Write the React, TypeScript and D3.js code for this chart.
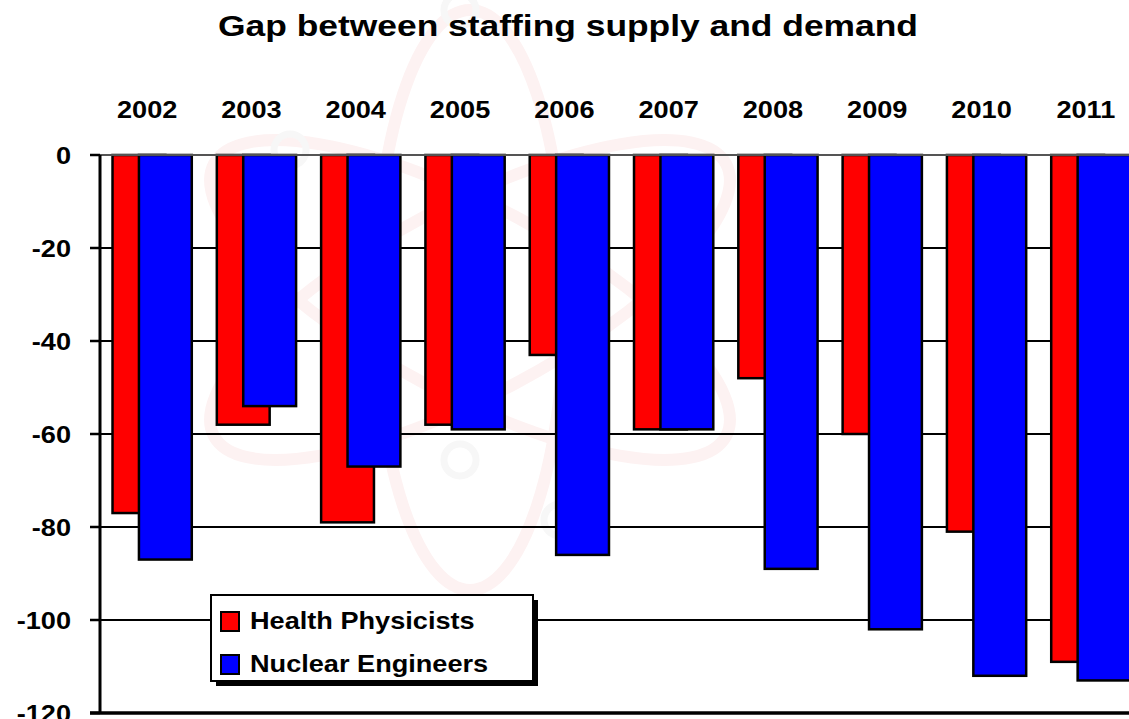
import React, { useEffect, useRef } from 'react';
import * as d3 from 'd3';

// chart values
const years = ['2002', '2003', '2004', '2005', '2006', '2007', '2008', '2009', '2010', '2011'];
const healthPhysicists = [-77, -58, -79, -58, -43, -59, -48, -60, -81, -109];
const nuclearEngineers = [-87, -54, -67, -59, -86, -59, -89, -102, -112, -113];
const yTicks = [0, -20, -40, -60, -80, -100, -120];
const seriesNames = ['Health Physicists', 'Nuclear Engineers'];
const seriesColors = ['#ff0000', '#0000ff'];

const W = 1129;
const H = 719;
const FONT = '"Liberation Sans", Arial, Helvetica, sans-serif';
const STRETCH = 1.18; // the slide text is a little wider than plain Arial

const App: React.FC = () => {
  const svgRef = useRef<SVGSVGElement>(null);

  useEffect(() => {
    if (!svgRef.current) return;
    const svg = d3.select(svgRef.current);
    svg.selectAll('*').remove();

    const left = 100;
    const x = d3.scaleBand<string>()
      .domain(years)
      .range([left, left + 1043])
      .paddingInner(0.24)
      .paddingOuter(0.12);
    const y = d3.scaleLinear().domain([-120, 0]).range([713, 155]);

    const barW = (x.bandwidth() * 2) / 3;
    const shift = x.bandwidth() / 3;

    // helper for horizontally stretched text
    const addText = (
      tx: number, ty: number, str: string, size: number, anchor: string,
    ) => svg.append('text')
      .attr('transform', `translate(${tx},${ty}) scale(${STRETCH},1)`)
      .attr('text-anchor', anchor)
      .attr('font-family', FONT)
      .attr('font-weight', 'bold')
      .attr('font-size', size)
      .attr('fill', '#000')
      .text(str);

    // very faint atom watermark in the background
    const wm = svg.append('g').attr('transform', 'translate(470,300)');
    [-62, 0, 62].forEach(a => {
      wm.append('ellipse')
        .attr('rx', 290).attr('ry', 95)
        .attr('transform', `rotate(${a - 90})`)
        .attr('fill', 'none')
        .attr('stroke', '#fdf2f2')
        .attr('stroke-width', 12);
    });
    [[-180, -150], [-10, -290], [90, 220], [-10, 160]].forEach(([cx, cy]) => {
      wm.append('circle').attr('cx', cx).attr('cy', cy).attr('r', 16)
        .attr('fill', 'none').attr('stroke', '#f7f7f7').attr('stroke-width', 7);
    });

    // title
    addText(568, 36, 'Gap between staffing supply and demand', 30, 'middle');

    // gridlines
    svg.append('g')
      .selectAll('line')
      .data(yTicks.filter(t => t !== 0 && t !== -120))
      .enter()
      .append('line')
      .attr('x1', left).attr('x2', W)
      .attr('y1', d => y(d)).attr('y2', d => y(d))
      .attr('stroke', '#000').attr('stroke-width', 2);

    // bars: red first, blue overlapping on top
    const drawSeries = (vals: number[], color: string, dx: number) => {
      svg.append('g')
        .selectAll('rect')
        .data(vals)
        .enter()
        .append('rect')
        .attr('x', (_, i) => (x(years[i]) as number) + dx)
        .attr('y', y(0))
        .attr('width', barW)
        .attr('height', d => y(d) - y(0))
        .attr('fill', color)
        .attr('stroke', '#000')
        .attr('stroke-width', 2.5);
    };
    drawSeries(healthPhysicists, seriesColors[0], 0);
    drawSeries(nuclearEngineers, seriesColors[1], shift);

    // top (zero) line and bottom border
    svg.append('line')
      .attr('x1', left).attr('x2', W)
      .attr('y1', y(0)).attr('y2', y(0))
      .attr('stroke', '#555').attr('stroke-width', 2);
    svg.append('line')
      .attr('x1', left - 10).attr('x2', W)
      .attr('y1', y(-120)).attr('y2', y(-120))
      .attr('stroke', '#000').attr('stroke-width', 3.5);

    // value axis
    svg.append('line')
      .attr('x1', left).attr('x2', left)
      .attr('y1', y(0)).attr('y2', y(-120))
      .attr('stroke', '#000').attr('stroke-width', 3);
    yTicks.forEach(t => {
      svg.append('line')
        .attr('x1', left - 10).attr('x2', left)
        .attr('y1', y(t)).attr('y2', y(t))
        .attr('stroke', '#000').attr('stroke-width', 2.5);
      addText(71, y(t) + 8.5, String(t), 23, 'end');
    });

    // category labels above the plot
    years.forEach(yr => {
      addText((x(yr) as number) + x.bandwidth() / 2 - 5, 118, yr, 23, 'middle');
    });

    // legend
    const lg = svg.append('g').attr('transform', 'translate(211,595)');
    lg.append('rect').attr('x', 5).attr('y', 5).attr('width', 322).attr('height', 86).attr('fill', '#000');
    lg.append('rect').attr('width', 322).attr('height', 86)
      .attr('fill', '#fff').attr('stroke', '#000').attr('stroke-width', 2);
    seriesNames.forEach((name, i) => {
      const cy = 26 + i * 43;
      lg.append('rect')
        .attr('x', 10).attr('y', cy - 9).attr('width', 18).attr('height', 19)
        .attr('fill', seriesColors[i]).attr('stroke', '#000').attr('stroke-width', 2);
      lg.append('text')
        .attr('transform', `translate(39,${cy + 8}) scale(${STRETCH},1)`)
        .attr('font-family', FONT)
        .attr('font-weight', 'bold')
        .attr('font-size', 23)
        .text(name);
    });
  }, []);

  return (
    <svg
      ref={svgRef}
      width={W}
      height={H}
      style={{ position: 'absolute', left: 0, top: 0, display: 'block', background: '#fff' }}
    />
  );
};

export default App;
